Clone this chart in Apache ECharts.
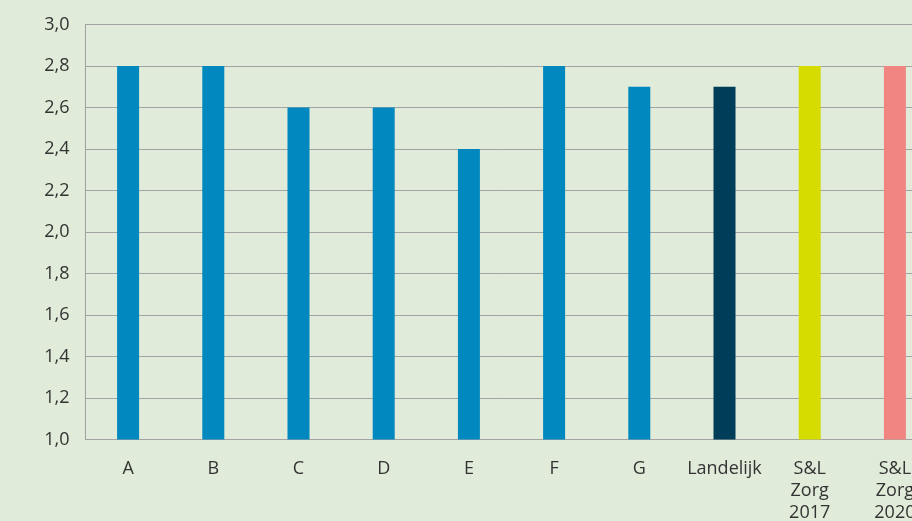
<!DOCTYPE html>
<html><head><meta charset="utf-8">
<script src="https://cdn.jsdelivr.net/npm/echarts@6/dist/echarts.min.js"></script>
<style>html,body{margin:0;padding:0;background:#e1ebda;}#c{width:912px;height:521px;}</style>
</head><body><div id="c"></div>
<script>
const categories = ['A','B','C','D','E','F','G','Landelijk','S&L\nZorg\n2017','S&L\nZorg\n2020'];
const values = [2.8,2.8,2.6,2.6,2.4,2.8,2.7,2.7,2.8,2.8];
const barColors = ['#0088bf','#0088bf','#0088bf','#0088bf','#0088bf','#0088bf','#0088bf','#003d58','#d6dc00','#f08582'];
const chart = echarts.init(document.getElementById('c'));
chart.setOption({
  backgroundColor:'#e1ebda',
  animation:false,
  grid:{left:85.5,width:852,top:24.5,height:415,containLabel:false,outerBoundsMode:'none'},
  xAxis:{type:'category',data:categories,
    axisLine:{show:false},axisTick:{show:false},
    axisLabel:{color:'#333',fontFamily:'Open Sans',fontSize:18,lineHeight:22,margin:18,interval:0}},
  yAxis:{type:'value',min:1,max:3,interval:0.2,
    axisLine:{show:true,lineStyle:{color:'#a0a0a0',width:1}},
    axisTick:{show:false},
    splitLine:{lineStyle:{color:'#a3a3a3',width:1}},
    axisLabel:{color:'#333',fontFamily:'Open Sans',fontSize:18,margin:16,
      formatter:v=>v.toFixed(1).replace('.',',')}},
  series:[{type:'bar',barWidth:22,
    data:values.map((v,i)=>({value:v,itemStyle:{color:barColors[i]}}))}]
});
</script></body></html>
